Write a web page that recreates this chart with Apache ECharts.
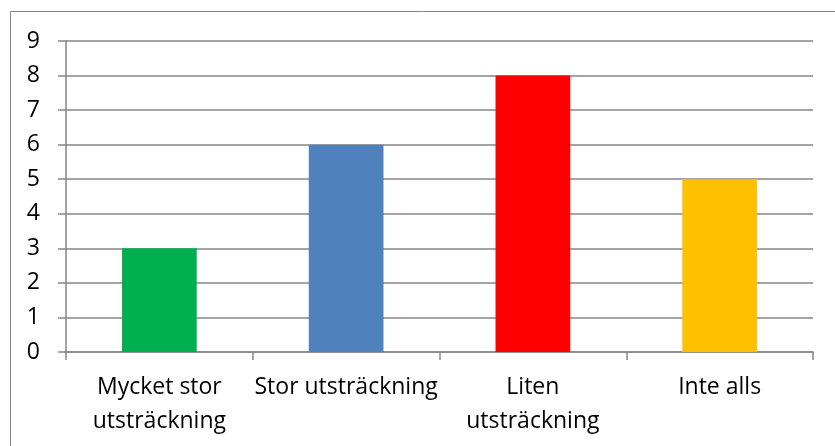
<!DOCTYPE html>
<html><head><meta charset="utf-8">
<script src="https://cdn.jsdelivr.net/npm/echarts@6/dist/echarts.min.js"></script>
<style>html,body{margin:0;padding:0;background:#fff}#c{width:835px;height:446px}</style>
</head><body><div id="c"></div>
<script>
var categories = ["Mycket stor\nutsträckning", "Stor utsträckning", "Liten\nutsträckning", "Inte alls"];
var values = [3, 6, 8, 5];
var colors = ["#00B050", "#4F81BD", "#FF0000", "#FFC000"];
var yTicks = [0, 1, 2, 3, 4, 5, 6, 7, 8, 9];

var chart = echarts.init(document.getElementById('c'));
var font = "'Open Sans', 'Liberation Sans', sans-serif";
chart.setOption({
  animation: false,
  graphic: [{type: 'rect', shape: {x: 10.5, y: 11.5, width: 840, height: 450}, style: {fill: 'none', stroke: '#868686', lineWidth: 1}}],
  grid: {left: 66, right: 22, top: 41, bottom: 94, containLabel: false},
  xAxis: {
    type: 'category', data: categories,
    axisLine: {lineStyle: {color: '#868686', width: 1.5}},
    axisTick: {show: true, length: 8, alignWithLabel: false, lineStyle: {color: '#868686', width: 1.5}},
    axisLabel: {color: '#000', fontSize: 23, fontFamily: font, margin: 18, lineHeight: 34, interval: 0}
  },
  yAxis: {
    type: 'value', min: yTicks[0], max: yTicks[yTicks.length - 1], interval: 1,
    axisLine: {show: true, lineStyle: {color: '#868686', width: 1.5}},
    axisTick: {show: true, length: 8, lineStyle: {color: '#868686', width: 1.5}},
    splitLine: {lineStyle: {color: '#868686', width: 1.5}},
    axisLabel: {color: '#000', fontSize: 23, fontFamily: font, margin: 26}
  },
  series: [{
    type: 'bar', barWidth: '40%',
    data: values.map(function (v, i) { return {value: v, itemStyle: {color: colors[i]}}; })
  }]
});
</script></body></html>
